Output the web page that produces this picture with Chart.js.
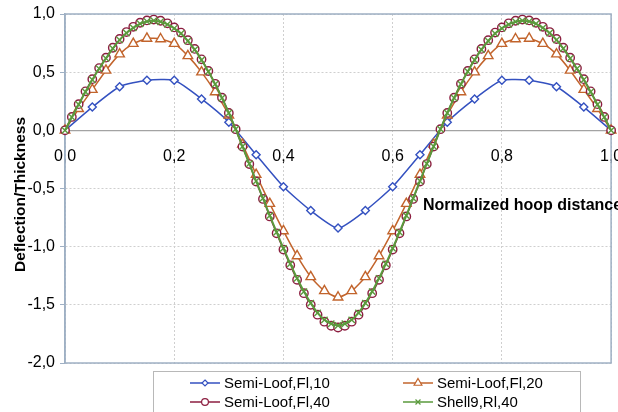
<!DOCTYPE html>
<html><head><meta charset="utf-8">
<script src="https://cdn.jsdelivr.net/npm/chart.js@4.4.1/dist/chart.umd.min.js"></script>
<style>html,body{margin:0;padding:0;background:#fff;}#wrap{width:618px;height:412px;position:relative;}</style>
</head><body><div id="wrap"><canvas id="c" width="618" height="412"></canvas></div>
<script>
const seriesNames = ['Semi-Loof,Fl,10', 'Semi-Loof,Fl,20', 'Semi-Loof,Fl,40', 'Shell9,Rl,40'];
const xAxisTitle = 'Normalized hoop distance';
const yAxisTitle = 'Deflection/Thickness';

const xBlue = [0, 0.05, 0.1, 0.15, 0.2, 0.25, 0.3, 0.35, 0.4, 0.45, 0.5, 0.55, 0.6, 0.65, 0.7, 0.75, 0.8, 0.85, 0.9, 0.95, 1];
const yBlue = [0, 0.20, 0.375, 0.43, 0.43, 0.27, 0.07, -0.21, -0.485, -0.69, -0.84, -0.69, -0.485, -0.21, 0.07, 0.27, 0.43, 0.43, 0.375, 0.20, 0];

const xOrange = [0, 0.025, 0.05, 0.075, 0.1, 0.125, 0.15, 0.175, 0.2, 0.225, 0.25, 0.275, 0.3, 0.325, 0.35, 0.375, 0.4, 0.425, 0.45, 0.475, 0.5,
  0.525, 0.55, 0.575, 0.6, 0.625, 0.65, 0.675, 0.7, 0.725, 0.75, 0.775, 0.8, 0.825, 0.85, 0.875, 0.9, 0.925, 0.95, 0.975, 1];
const yOrange = [0, 0.185, 0.35, 0.515, 0.655, 0.745, 0.79, 0.785, 0.745, 0.64, 0.50, 0.33, 0.13, -0.12, -0.38, -0.63, -0.865, -1.08, -1.26, -1.38, -1.435,
  -1.38, -1.26, -1.08, -0.865, -0.63, -0.38, -0.12, 0.13, 0.33, 0.50, 0.64, 0.745, 0.785, 0.79, 0.745, 0.655, 0.515, 0.35, 0.185, 0];

const xFine = [0, 0.0125, 0.025, 0.0375, 0.05, 0.0625, 0.075, 0.0875, 0.1, 0.1125, 0.125, 0.1375, 0.15, 0.1625, 0.175, 0.1875, 0.2, 0.2125, 0.225, 0.2375,
  0.25, 0.2625, 0.275, 0.2875, 0.3, 0.3125, 0.325, 0.3375, 0.35, 0.3625, 0.375, 0.3875, 0.4, 0.4125, 0.425, 0.4375, 0.45, 0.4625, 0.475, 0.4875, 0.5,
  0.5125, 0.525, 0.5375, 0.55, 0.5625, 0.575, 0.5875, 0.6, 0.6125, 0.625, 0.6375, 0.65, 0.6625, 0.675, 0.6875, 0.7, 0.7125, 0.725, 0.7375,
  0.75, 0.7625, 0.775, 0.7875, 0.8, 0.8125, 0.825, 0.8375, 0.85, 0.8625, 0.875, 0.8875, 0.9, 0.9125, 0.925, 0.9375, 0.95, 0.9625, 0.975, 0.9875, 1];
const yRed = [0, 0.115, 0.225, 0.335, 0.44, 0.535, 0.625, 0.71, 0.785, 0.845, 0.89, 0.925, 0.945, 0.952, 0.942, 0.92, 0.885, 0.84, 0.775, 0.70,
  0.61, 0.51, 0.40, 0.28, 0.15, 0.01, -0.14, -0.29, -0.44, -0.59, -0.74, -0.885, -1.025, -1.16, -1.285, -1.40, -1.50, -1.585, -1.645, -1.68, -1.695,
  -1.68, -1.645, -1.585, -1.50, -1.40, -1.285, -1.16, -1.025, -0.885, -0.74, -0.59, -0.44, -0.29, -0.14, 0.01, 0.15, 0.28, 0.40, 0.51,
  0.61, 0.70, 0.775, 0.84, 0.885, 0.92, 0.942, 0.952, 0.945, 0.925, 0.89, 0.845, 0.785, 0.71, 0.625, 0.535, 0.44, 0.335, 0.225, 0.115, 0];
const yGreen = [0, 0.113, 0.222, 0.331, 0.435, 0.53, 0.619, 0.703, 0.777, 0.837, 0.881, 0.916, 0.936, 0.943, 0.933, 0.911, 0.877, 0.832, 0.768, 0.694,
  0.605, 0.506, 0.397, 0.278, 0.149, 0.01, -0.139, -0.287, -0.436, -0.584, -0.733, -0.876, -1.015, -1.148, -1.272, -1.386, -1.485, -1.569, -1.629, -1.663, -1.678,
  -1.663, -1.629, -1.569, -1.485, -1.386, -1.272, -1.148, -1.015, -0.876, -0.733, -0.584, -0.436, -0.287, -0.139, 0.01, 0.149, 0.278, 0.397, 0.506,
  0.605, 0.694, 0.768, 0.832, 0.877, 0.911, 0.933, 0.943, 0.936, 0.916, 0.881, 0.837, 0.777, 0.703, 0.619, 0.53, 0.435, 0.331, 0.222, 0.113, 0];

const FONT = '"Liberation Sans", Arial, sans-serif';
const FRAME = '#9fb0c4';
const GRID = '#cfcfcf';
const colors = ['#3451c0', '#c2642c', '#8c1e40', '#5a9a3c'];
const styles = ['rectRot', 'triangle', 'circle', 'crossRot'];
const radii = [4, 5.5, 4.2, 4.5];

function pts(xs, ys) { return xs.map((x, i) => ({x: x, y: ys[i]})); }
const fmt = v => Number(v).toFixed(1).replace('.', ',');

function mk(i, xs, ys, order, lw) {
  return {
    label: seriesNames[i], data: pts(xs, ys),
    borderColor: colors[i], backgroundColor: '#ffffff', borderWidth: lw,
    pointStyle: styles[i], pointRadius: radii[i], pointBorderColor: colors[i],
    pointBackgroundColor: '#ffffff', pointBorderWidth: 1.4, tension: 0.2,
    order: order, clip: false, fill: false
  };
}

function drawMarker(ctx, style, x, y, r) {
  ctx.beginPath();
  if (style === 'rectRot') {
    ctx.moveTo(x, y - r); ctx.lineTo(x + r, y); ctx.lineTo(x, y + r); ctx.lineTo(x - r, y); ctx.closePath();
    ctx.fill(); ctx.stroke();
  } else if (style === 'triangle') {
    const h = r * 0.866;
    ctx.moveTo(x, y - r); ctx.lineTo(x + h, y + r / 2); ctx.lineTo(x - h, y + r / 2); ctx.closePath();
    ctx.fill(); ctx.stroke();
  } else if (style === 'circle') {
    ctx.arc(x, y, r, 0, Math.PI * 2); ctx.fill(); ctx.stroke();
  } else {
    const d = r * 0.707;
    ctx.moveTo(x - d, y - d); ctx.lineTo(x + d, y + d); ctx.moveTo(x + d, y - d); ctx.lineTo(x - d, y + d); ctx.stroke();
  }
}

const extras = {
  id: 'extras',
  beforeDatasetsDraw(chart) {
    const {ctx, chartArea: a} = chart;
    ctx.save();
    ctx.strokeStyle = FRAME; ctx.lineWidth = 1.5;
    ctx.strokeRect(a.left, a.top, a.right - a.left, a.bottom - a.top);
    ctx.restore();
  },
  afterDraw(chart) {
    const ctx = chart.ctx;
    ctx.save();
    ctx.fillStyle = '#000';
    ctx.font = 'bold 16px ' + FONT;
    ctx.textBaseline = 'alphabetic'; ctx.textAlign = 'left';
    ctx.fillText(xAxisTitle, 423, 210);
    // y axis title
    ctx.save();
    ctx.translate(21, 194.5);
    ctx.rotate(-Math.PI / 2);
    ctx.font = 'bold 15.5px ' + FONT;
    ctx.textAlign = 'center'; ctx.textBaseline = 'middle';
    ctx.fillText(yAxisTitle, 0, 0);
    ctx.restore();
    // legend
    ctx.strokeStyle = '#b8b8b8'; ctx.lineWidth = 1;
    ctx.strokeRect(153.5, 371.5, 427, 50);
    const pos = [[190, 383], [403, 383], [190, 402], [403, 402]];
    const lr = [3, 4.5, 3.4, 3.5];
    chart.data.datasets.forEach((ds, i) => {
      const [x, y] = pos[i];
      ctx.strokeStyle = colors[i]; ctx.lineWidth = 1.5;
      ctx.beginPath(); ctx.moveTo(x, y); ctx.lineTo(x + 30, y); ctx.stroke();
      ctx.fillStyle = '#fff'; ctx.lineWidth = 1.2;
      drawMarker(ctx, styles[i], x + 15, y, lr[i]);
      ctx.fillStyle = '#000'; ctx.font = '15px ' + FONT; ctx.textBaseline = 'middle'; ctx.textAlign = 'left';
      ctx.fillText(ds.label, x + 34, y + 0.5);
    });
    ctx.restore();
  }
};

new Chart(document.getElementById('c'), {
  type: 'line',
  data: {
    datasets: [
      mk(0, xBlue, yBlue, 3, 1.5),
      mk(1, xOrange, yOrange, 2, 1.5),
      mk(2, xFine, yRed, 1, 1.5),
      mk(3, xFine, yGreen, 0, 2)
    ]
  },
  options: {
    responsive: false, animation: false, devicePixelRatio: 1,
    layout: {padding: {left: 0, right: 6, top: 14, bottom: 49}},
    plugins: {legend: {display: false}, tooltip: {enabled: false}},
    scales: {
      x: {
        type: 'linear', min: 0, max: 1, position: {y: 0},
        ticks: {stepSize: 0.2, color: '#000', font: {family: FONT, size: 16}, padding: 17, callback: fmt, maxRotation: 0},
        grid: {color: GRID, drawTicks: false, lineWidth: 1},
        border: {display: true, color: '#a3a3a3', width: 1.2, dash: [2, 2]},
        afterFit: s => { s.paddingLeft = 0; s.paddingRight = 0; }
      },
      y: {
        type: 'linear', min: -2, max: 1,
        ticks: {stepSize: 0.5, color: '#000', font: {family: FONT, size: 16}, padding: 5, callback: fmt},
        grid: {color: GRID, drawTicks: true, tickLength: 5, tickColor: FRAME, lineWidth: 1},
        border: {display: true, color: FRAME, width: 1.5, dash: [2, 2]},
        title: {display: false},
        afterFit: s => { s.width = 65; s.paddingTop = 0; s.paddingBottom = 0; }
      }
    }
  },
  plugins: [extras]
});
</script>
</body></html>
